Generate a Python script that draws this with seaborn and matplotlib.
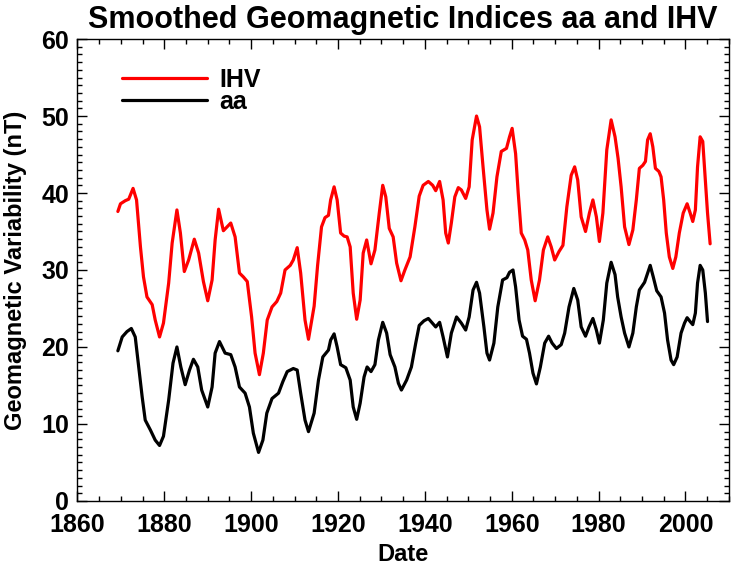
import pandas as pd
import matplotlib
matplotlib.use('Agg')
import matplotlib.pyplot as plt
from matplotlib.ticker import MultipleLocator
import seaborn as sns

# smoothed IHV
ihv_year = [1869.3, 1869.9, 1871.0, 1871.8, 1872.8, 1873.6, 1874.5, 1875.2, 1876.0, 1877.2,
            1877.9, 1878.9, 1879.8, 1881.0, 1881.8, 1882.9, 1883.7, 1884.6, 1885.6, 1886.9,
            1887.9, 1889.0, 1890.0, 1891.0, 1891.7, 1892.5, 1893.6, 1895.3, 1896.3, 1897.3,
            1898.2, 1899.1, 1900.1, 1900.9, 1901.9, 1902.8, 1903.7, 1904.8, 1905.9, 1906.8,
            1907.8, 1909.0, 1909.7, 1910.6, 1911.4, 1912.4, 1913.2, 1914.5, 1915.3, 1916.2,
            1917.0, 1917.8, 1918.3, 1919.1, 1919.8, 1920.6, 1921.4, 1922.1, 1922.8, 1923.5,
            1924.3, 1925.1, 1925.8, 1926.6, 1927.6, 1928.5, 1929.5, 1930.3, 1931.0, 1931.8,
            1932.7, 1933.5, 1934.5, 1935.4, 1936.6, 1937.7, 1938.7, 1939.6, 1940.8, 1941.8,
            1942.5, 1943.4, 1944.2, 1944.8, 1945.4, 1946.1, 1946.9, 1947.7, 1948.4, 1949.4,
            1950.2, 1950.9, 1951.9, 1952.6, 1953.4, 1954.3, 1954.9, 1955.7, 1956.6, 1957.6,
            1958.8, 1959.5, 1960.1, 1960.9, 1961.5, 1962.2, 1963.0, 1963.7, 1964.5, 1965.4,
            1966.4, 1967.3, 1968.3, 1969.1, 1969.9, 1970.9, 1971.8, 1972.7, 1973.7, 1974.5,
            1975.2, 1976.0, 1977.0, 1977.9, 1978.7, 1979.5, 1980.2, 1981.0, 1981.9, 1982.9,
            1983.8, 1984.5, 1985.2, 1986.0, 1987.0, 1987.9, 1988.7, 1989.4, 1990.2, 1990.8,
            1991.3, 1991.9, 1992.5, 1993.1, 1993.9, 1994.4, 1995.0, 1995.6, 1996.3, 1997.1,
            1997.8, 1998.6, 1999.5, 2000.4, 2001.1, 2001.7, 2002.3, 2002.8, 2003.4, 2004.0,
            2004.6, 2005.1, 2005.7]
ihv = [37.6, 38.6, 39.0, 39.2, 40.6, 39.1, 33.0, 29.1, 26.5, 25.5,
       23.5, 21.3, 23.1, 28.3, 33.5, 37.8, 34.8, 29.8, 31.3, 34.0,
       32.2, 28.5, 26.0, 28.7, 33.9, 37.9, 35.1, 36.1, 34.3, 29.6,
       29.1, 28.5, 23.9, 19.2, 16.4, 19.2, 23.5, 25.2, 25.9, 27.0,
       30.0, 30.6, 31.3, 32.9, 29.6, 23.5, 21.0, 25.3, 30.6, 35.6,
       36.8, 37.1, 39.1, 40.8, 39.1, 34.8, 34.4, 34.3, 33.0, 27.0,
       23.6, 26.1, 32.2, 33.9, 30.8, 32.6, 37.4, 41.0, 39.5, 35.4,
       34.3, 30.9, 28.6, 30.0, 31.7, 35.6, 39.6, 41.0, 41.5, 41.0,
       40.3, 41.5, 39.1, 34.8, 33.5, 36.1, 39.5, 40.7, 40.4, 39.3,
       40.8, 46.9, 50.0, 48.6, 43.4, 37.8, 35.3, 37.4, 42.1, 45.4,
       45.8, 47.3, 48.4, 45.1, 40.0, 34.8, 33.9, 32.6, 28.7, 26.0,
       28.7, 32.6, 34.3, 33.0, 31.3, 32.4, 33.2, 38.2, 42.3, 43.4,
       41.7, 36.9, 35.0, 37.4, 39.1, 36.9, 33.7, 37.4, 45.6, 49.5,
       47.3, 44.5, 40.8, 35.6, 33.3, 35.2, 39.1, 43.2, 43.6, 44.1,
       46.9, 47.7, 46.0, 43.2, 42.8, 42.1, 39.1, 34.8, 31.7, 30.2,
       31.7, 34.8, 37.4, 38.6, 37.4, 36.3, 37.8, 43.4, 47.3, 46.7,
       41.7, 37.4, 33.4]

# smoothed aa
aa_year = [1869.3, 1870.3, 1871.4, 1872.4, 1873.3, 1874.1, 1874.9, 1875.6, 1876.8, 1877.9,
           1878.9, 1879.8, 1881.0, 1882.0, 1882.9, 1883.8, 1884.8, 1885.8, 1886.7, 1887.7,
           1888.6, 1890.0, 1891.0, 1891.7, 1892.7, 1894.0, 1895.3, 1896.3, 1897.3, 1898.6,
           1899.6, 1900.5, 1901.7, 1902.7, 1903.6, 1904.8, 1906.3, 1907.3, 1908.3, 1909.7,
           1910.6, 1911.4, 1912.4, 1913.2, 1914.5, 1915.5, 1916.5, 1917.8, 1918.3, 1919.1,
           1919.8, 1920.6, 1921.8, 1922.8, 1923.5, 1924.3, 1925.1, 1926.0, 1926.7, 1927.6,
           1928.5, 1929.3, 1930.3, 1931.2, 1932.0, 1933.1, 1933.9, 1934.6, 1935.8, 1936.9,
           1937.9, 1938.7, 1939.8, 1940.8, 1941.9, 1942.5, 1943.4, 1944.2, 1945.2, 1946.1,
           1947.3, 1948.4, 1949.4, 1950.2, 1951.1, 1951.9, 1952.6, 1953.6, 1954.3, 1954.9,
           1955.9, 1956.8, 1957.9, 1958.9, 1959.5, 1960.3, 1960.9, 1961.7, 1962.5, 1963.4,
           1964.1, 1964.9, 1965.7, 1966.6, 1967.6, 1968.5, 1969.3, 1970.3, 1971.4, 1972.2,
           1973.2, 1974.3, 1975.2, 1976.0, 1977.0, 1977.8, 1978.7, 1979.5, 1980.2, 1981.1,
           1981.9, 1982.9, 1983.8, 1984.4, 1985.2, 1986.0, 1987.0, 1987.9, 1988.7, 1989.4,
           1990.6, 1991.9, 1992.6, 1993.4, 1994.4, 1995.2, 1995.9, 1996.7, 1997.3, 1998.1,
           1999.0, 1999.8, 2000.4, 2001.1, 2001.7, 2002.3, 2002.8, 2003.4, 2004.0, 2004.6,
           2005.1]
aa = [19.5, 21.3, 22.0, 22.4, 21.3, 17.4, 13.5, 10.5, 9.2, 7.9,
      7.2, 8.4, 13.1, 17.9, 20.0, 17.4, 15.1, 17.0, 18.4, 17.4,
      14.4, 12.2, 14.8, 19.2, 20.7, 19.2, 19.0, 17.4, 14.8, 14.0,
      12.2, 8.8, 6.3, 7.9, 11.4, 13.3, 14.0, 15.5, 16.8, 17.2,
      17.0, 14.0, 10.5, 9.0, 11.4, 15.7, 18.7, 19.6, 20.9, 21.7,
      20.0, 17.7, 17.3, 15.7, 12.2, 10.6, 12.7, 16.1, 17.4, 16.8,
      17.7, 20.9, 23.2, 21.8, 19.0, 17.4, 15.3, 14.4, 15.7, 17.4,
      20.5, 22.8, 23.4, 23.7, 23.0, 22.6, 23.2, 21.3, 18.7, 21.8,
      23.9, 23.1, 22.2, 23.9, 27.4, 28.4, 27.0, 22.6, 19.2, 18.3,
      20.5, 25.2, 28.7, 29.0, 29.7, 30.0, 27.8, 23.5, 21.4, 21.0,
      19.2, 16.6, 15.2, 17.4, 20.5, 21.4, 20.5, 19.8, 20.3, 21.8,
      25.2, 27.6, 26.1, 22.6, 21.4, 22.6, 23.7, 22.2, 20.5, 23.5,
      28.3, 31.0, 29.4, 26.5, 23.9, 21.8, 20.0, 21.8, 25.2, 27.4,
      28.4, 30.6, 29.1, 27.3, 26.5, 24.4, 20.9, 18.3, 17.7, 18.7,
      21.8, 23.1, 23.8, 23.3, 22.9, 24.4, 28.3, 30.6, 30.0, 27.0,
      23.3]

df = pd.concat([
    pd.DataFrame({'Date': ihv_year, 'value': ihv, 'series': 'IHV'}),
    pd.DataFrame({'Date': aa_year, 'value': aa, 'series': 'aa'}),
], ignore_index=True)

sns.set_style('ticks')
plt.rcParams['font.family'] = ['Liberation Sans', 'DejaVu Sans']
plt.rcParams['font.weight'] = 'bold'
plt.rcParams['text.color'] = 'black'
plt.rcParams['axes.labelcolor'] = 'black'

fig = plt.figure(figsize=(7.31, 5.66), dpi=100)
ax = fig.add_axes([0.106, 0.115, 0.891, 0.816])

sns.lineplot(data=df, x='Date', y='value', hue='series', hue_order=['IHV', 'aa'],
             palette={'IHV': '#ff0000', 'aa': '#000000'}, estimator=None,
             linewidth=2.3, ax=ax)

ax.set_xlim(1860, 2010)
ax.set_ylim(0, 60)
ax.xaxis.set_major_locator(MultipleLocator(20))
ax.xaxis.set_minor_locator(MultipleLocator(5))
ax.yaxis.set_major_locator(MultipleLocator(10))
ax.yaxis.set_minor_locator(MultipleLocator(1))
ax.tick_params(which='both', direction='in', top=True, right=True,
               colors='black', labelcolor='black', width=1)
ax.tick_params(which='major', length=7, labelsize=18)
ax.tick_params(axis='x', which='major', pad=9)
ax.tick_params(axis='y', which='major', pad=6)
ax.tick_params(which='minor', length=3.5)
for s in ax.spines.values():
    s.set_linewidth(1.0)
    s.set_color('black')

ax.set_title('Smoothed Geomagnetic Indices aa and IHV', fontsize=22, fontweight='bold',
             color='black', pad=8)
ax.set_xlabel('Date', fontsize=17, fontweight='bold', color='black', labelpad=4)
ax.set_ylabel('Geomagnetic Variability (nT)', fontsize=17, fontweight='bold',
              color='black', labelpad=10)

leg = ax.legend(loc='upper left', bbox_to_anchor=(0.053, 0.959), frameon=False,
                prop={'size': 18, 'weight': 'bold'},
                handlelength=3.4, handletextpad=0.5, labelspacing=-0.08, borderaxespad=0)
for t in leg.get_texts():
    t.set_color('black')

plt.savefig('out.png', dpi=100)
